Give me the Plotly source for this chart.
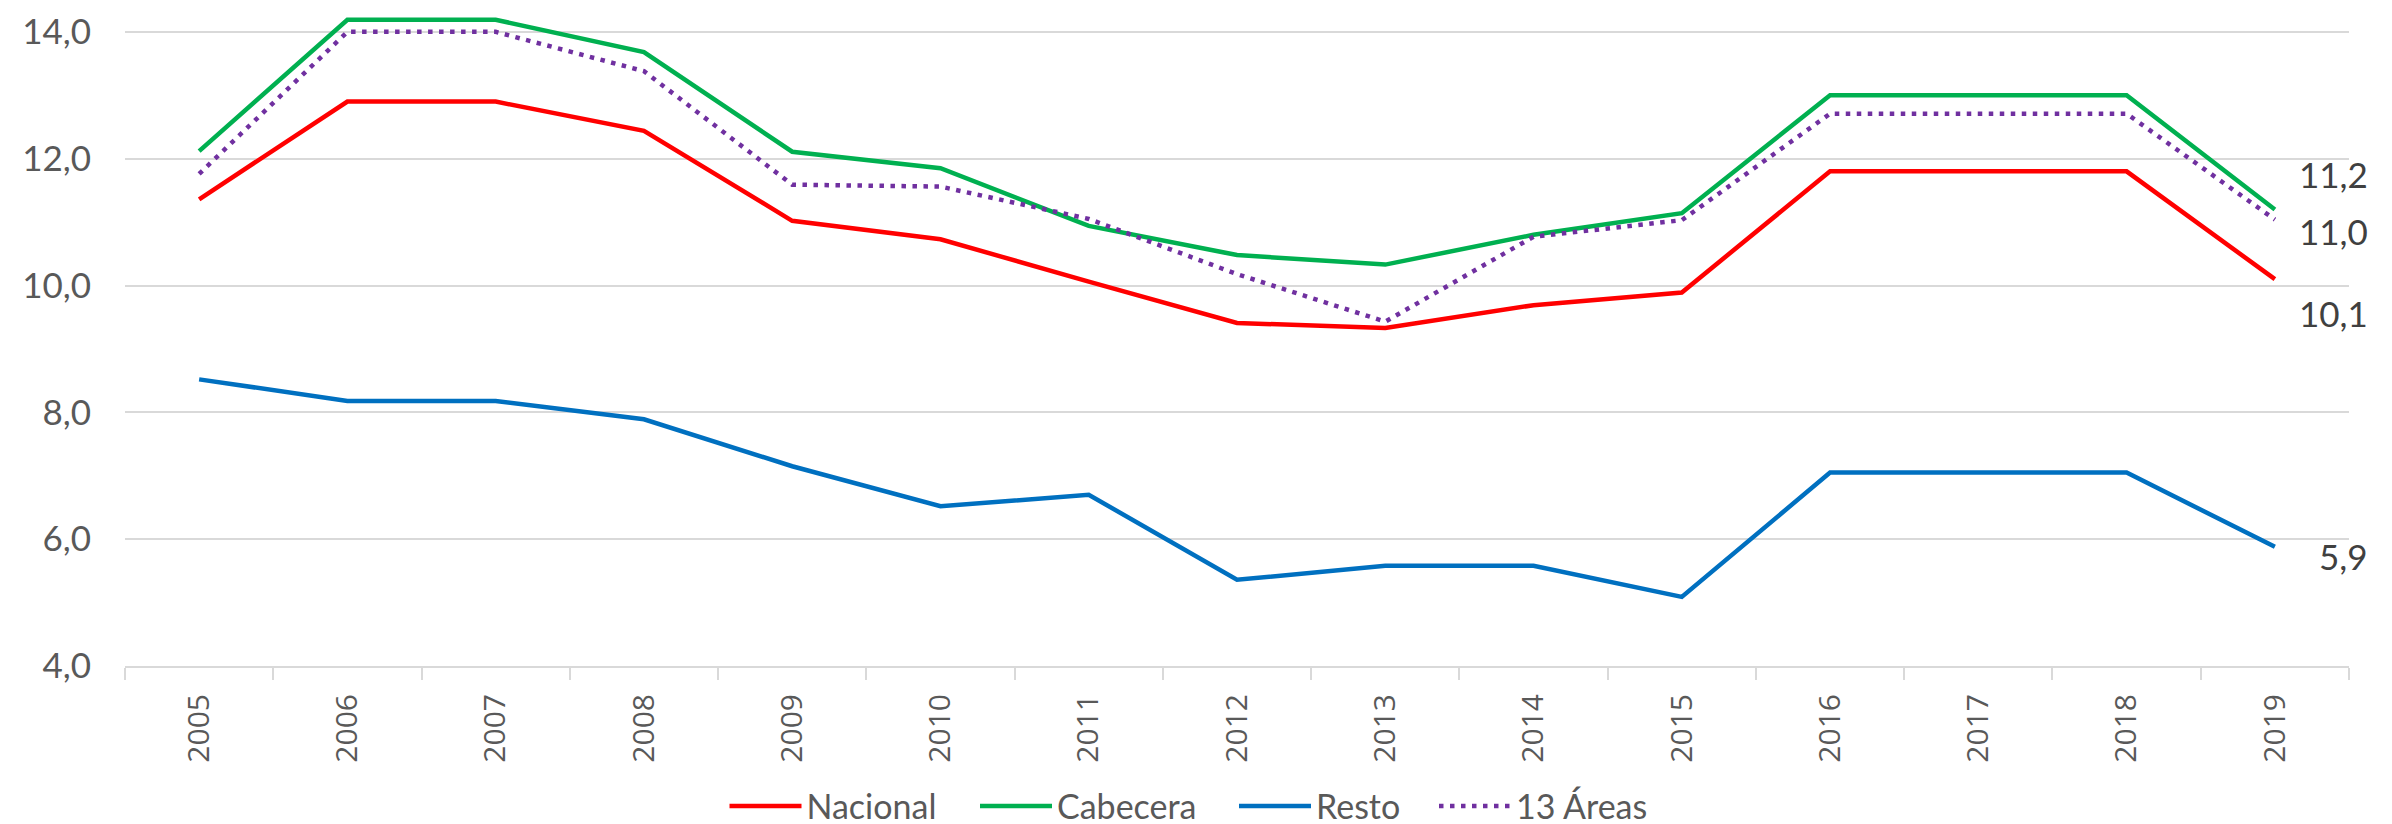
import plotly.graph_objects as go

years = ["2005", "2006", "2007", "2008", "2009", "2010", "2011", "2012",
         "2013", "2014", "2015", "2016", "2017", "2018", "2019"]
nacional = [11.36, 12.90, 12.90, 12.44, 11.02, 10.73, 10.06, 9.41, 9.33, 9.69, 9.89, 11.80, 11.80, 11.80, 10.10]
cabecera = [12.12, 14.19, 14.19, 13.68, 12.11, 11.85, 10.94, 10.48, 10.33, 10.80, 11.14, 13.00, 13.00, 13.00, 11.20]
resto = [8.52, 8.18, 8.18, 7.89, 7.15, 6.52, 6.70, 5.36, 5.58, 5.58, 5.09, 7.05, 7.05, 7.05, 5.88]
areas13 = [11.76, 14.00, 14.00, 13.38, 11.59, 11.56, 11.05, 10.18, 9.43, 10.77, 11.03, 12.71, 12.71, 12.71, 11.04]
y_ticks = [4, 6, 8, 10, 12, 14]
y_tick_text = ["4,0", "6,0", "8,0", "10,0", "12,0", "14,0"]

# name, values, colour, dash, label y-shift, legend id, legend left (container fraction)
series = [
    ("Nacional", nacional, "#FF0000", "solid", -34, "legend", 716.5 / 2392),
    ("Cabecera", cabecera, "#00B050", "solid", 35, "legend2", 967 / 2392),
    ("Resto", resto, "#0070C0", "solid", -9, "legend3", 1226 / 2392),
    ("13 Áreas", areas13, "#7030A0", "4.5px,6.5px", -11, "legend4", 1426 / 2392),
]

fig = go.Figure()
for name, vals, color, dash, _, leg, _ in series:
    fig.add_trace(go.Scatter(
        x=years, y=vals, name=name, mode="lines", legend=leg,
        line=dict(color=color, width=4.5, dash=dash),
    ))

last_idx = len(years) - 1
for name, vals, color, dash, yshift, _, _ in series:
    fig.add_annotation(
        x=last_idx, y=vals[-1], xref="x", yref="y",
        text=f"{vals[-1]:.1f}".replace(".", ","),
        showarrow=False, xanchor="right", yanchor="middle",
        xshift=95, yshift=yshift,
        font=dict(family="Lato", size=35, color="#404040"),
    )

legend_common = dict(
    orientation="h", xref="container", yref="container",
    xanchor="left", y=0.031, yanchor="middle",
    font=dict(family="Lato", size=34, color="#595959"),
    itemwidth=72, bgcolor="rgba(0,0,0,0)",
)
legends = {}
for _, _, _, _, _, leg, lx in series:
    legends[leg] = dict(legend_common, x=lx)

fig.update_layout(
    width=2392, height=824,
    margin=dict(l=117, r=51, t=8, b=166, autoexpand=False),
    plot_bgcolor="white", paper_bgcolor="white",
    showlegend=True,
    **legends,
    xaxis=dict(
        type="category", range=[-0.5, 14.5], automargin=False,
        showgrid=False, showline=True, linecolor="#D9D9D9", linewidth=2,
        ticks="outside", tickson="boundaries", ticklen=12, tickcolor="#D9D9D9", tickwidth=2,
        tickangle=-90, ticklabelstandoff=14,
        tickfont=dict(family="Open Sans", size=30, color="#595959"),
    ),
    yaxis=dict(
        range=[4, 14.25], tickvals=y_ticks, ticktext=y_tick_text, automargin=False,
        showgrid=True, gridcolor="#D9D9D9", gridwidth=2,
        zeroline=False, showline=False, ticks="",
        ticklabelstandoff=33,
        tickfont=dict(family="Lato", size=35, color="#595959"),
    ),
)

fig.write_html("out.html")
